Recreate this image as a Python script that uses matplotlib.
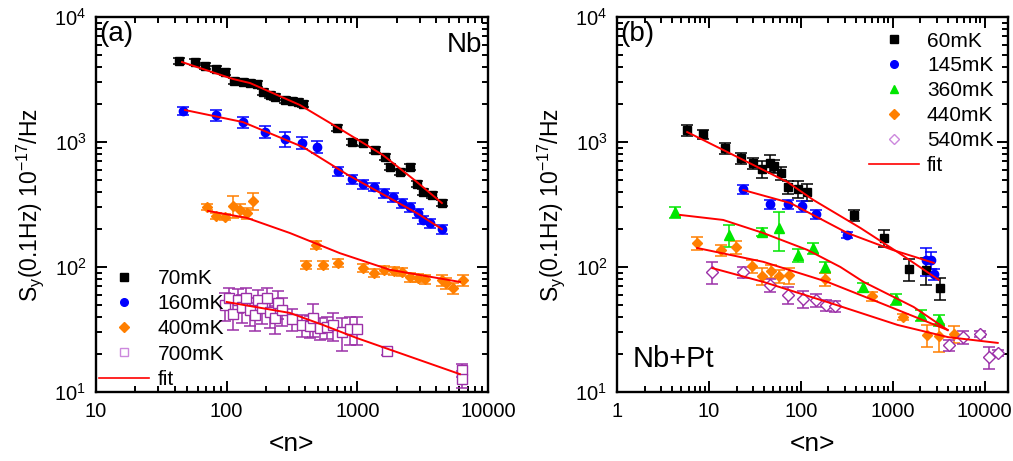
import numpy as np
import matplotlib.pyplot as plt
from matplotlib.lines import Line2D
from matplotlib.ticker import LogLocator, NullFormatter, FixedLocator, FixedFormatter

plt.rcParams['font.family'] = ['Liberation Sans', 'DejaVu Sans']
plt.rcParams['mathtext.fontset'] = 'custom'
plt.rcParams['mathtext.rm'] = 'Liberation Sans'

# ---- panel (a): Nb ----
a70_n = [43, 57, 68, 83, 97, 114, 133, 151, 171, 190, 214, 234, 279, 316, 352, 384,
         698, 910, 1104, 1364, 1626, 1776, 2118, 2525, 2857, 3177, 3724, 4440]
a70_s = [4446, 4365, 4055, 3837, 3631, 3076, 3020, 2965, 2911, 2512, 2377, 2291, 2168, 2128, 2089, 2014,
         1294, 1000, 982, 863, 759, 631, 575, 631, 461, 398, 377, 325]
a70_e = [0.06] * 28

a160_n = [46, 83, 133, 196, 279, 377, 491, 711, 910, 1104, 1340, 1599, 1871, 2194, 2525, 2911, 3177, 3597, 4440]
a160_s = [1770, 1644, 1445, 1202, 1057, 982, 912, 586, 506, 461, 437, 391, 363, 325, 302, 270, 238, 225, 201]
a160_e = [0.07, 0.1, 0.1, 0.11, 0.13, 0.11, 0.11, 0.08, 0.08, 0.08, 0.08, 0.08, 0.08, 0.08, 0.08, 0.08, 0.08, 0.08, 0.08]

a400_n = [71, 83, 97, 112, 126, 143, 159, 482, 404, 545, 711, 1104, 1340, 1599, 1905, 2194, 2525, 2911,
          3291, 4440, 4760, 5390, 6427]
a400_s = [302, 256, 251, 308, 286, 270, 337, 150, 104, 104, 108, 98, 90, 95, 93, 91, 83, 82,
          80, 79, 74, 68, 79]
a400_e = [0.05, 0.06, 0.06, 0.2, 0.12, 0.1, 0.15, 0.07, 0.07, 0.08, 0.08, 0.07, 0.07, 0.07, 0.07, 0.07, 0.08,
          0.08, 0.08, 0.1, 0.1, 0.1, 0.1]

a700_n = [97, 104, 112, 122, 131, 141, 151, 165, 174, 186, 203, 214, 234, 247, 265, 316, 377, 434, 457,
          517, 585, 650, 762, 877, 993, 1683, 6310, 6310]
a700_s = [49.7, 56.5, 42.1, 54.5, 47.9, 56.5, 45.3, 41.3, 54.5, 47.0, 56.5, 43.7, 39.1, 51.5, 45.3, 38.4,
          34.4, 33.7, 39.1, 32.5, 33.1, 34.4, 30.2, 31.9, 31.9, 21.3, 15.0, 12.7]
a700_e = [0.25, 0.2, 0.25, 0.22, 0.25, 0.2, 0.25, 0.25, 0.2, 0.25, 0.2, 0.25, 0.25, 0.25, 0.25, 0.2,
          0.2, 0.2, 0.3, 0.2, 0.2, 0.25, 0.3, 0.25, 0.25, 0.07, 0.12, 0.15]

fa70_n = [45.5, 112, 151, 364, 698, 1570, 2857, 4440]
fa70_s = [4365, 3192, 2965, 1977, 1318, 787, 479, 325]
fa160_n = [48, 133, 384, 848, 2857, 4440]
fa160_s = [1803, 1445, 912, 545, 270, 201]
fa400_n = [72, 143, 305, 736, 1776, 6095]
fa400_s = [281, 247, 187, 129, 95, 76]
fa700_n = [100, 305, 545, 993, 6095]
fa700_s = [52.5, 42.9, 34.4, 27.0, 13.9]

# ---- panel (b): Nb+Pt ----
b60_n = [5.8, 8.7, 15.1, 22.5, 30.4, 38.1, 46.6, 51.5, 61.4, 73.2, 94.1, 118, 375, 796, 1490, 2284, 3245]
b60_s = [1247, 1159, 895, 745, 679, 608, 679, 643, 565, 437, 421, 398, 261, 171, 96, 95, 68]
b60_e = [0.1, 0.08, 0.1, 0.1, 0.1, 0.15, 0.15, 0.12, 0.12, 0.12, 0.15, 0.15, 0.1, 0.15, 0.2, 0.25, 0.2]

b145_n = [23.7, 46.6, 73.2, 104, 148, 322, 2284, 2590, 2795]
b145_s = [421, 319, 319, 308, 265, 180, 114, 114, 88]
b145_e = [0.08, 0.08, 0.08, 0.1, 0.08, 0.06, 0.25, 0.15, 0.1]

b360_n = [4.29, 16.6, 38.1, 58.4, 94.1, 137, 185, 470, 1076, 2014, 3169]
b360_s = [275, 180, 191, 205, 125, 142, 100, 69, 55.5, 41.3, 37.7]
b360_e = [0.1, 0.2, 0.08, 0.35, 0.12, 0.1, 0.1, 0.08, 0.1, 0.1, 0.1]

b440_n = [7.45, 13.6, 19.9, 29.7, 38.1, 47.8, 58.4, 75.1, 185, 589, 1282, 2343, 3169, 4613]
b440_s = [156, 137, 145, 102, 85, 93, 85, 86, 80, 58.6, 39.8, 28.6, 28.1, 29.1]
b440_e = [0.12, 0.1, 0.12, 0.12, 0.15, 0.12, 0.12, 0.15, 0.12, 0.08, 0.06, 0.2, 0.25, 0.15]

b540_n = [10.9, 23.7, 46.6, 73.2, 107, 148, 190, 238, 4074, 5786, 8870, 11100, 13900]
b540_s = [91, 91, 72, 60, 55.5, 54.5, 49.7, 48.8, 23.8, 27.5, 29.1, 19.1, 20.5]
b540_e = [0.2, 0.1, 0.12, 0.15, 0.15, 0.12, 0.1, 0.1, 0.1, 0.12, 0.05, 0.2, 0.06]

fb60_n = [5.8, 20.4, 71.4, 137, 447, 1219, 3169]
fb60_s = [1202, 759, 479, 344, 205, 127, 79]
fb145_n = [23.7, 77, 322, 998, 2795]
fb145_s = [413, 325, 187, 137, 108]
fb360_n = [4.86, 14.3, 39.1, 118, 270, 482, 1690, 3970]
fb360_s = [261, 238, 187, 137, 100, 76, 47.9, 31.3]
fb440_n = [7.45, 39.1, 195, 738, 3970]
fb440_s = [142, 110, 76, 51.5, 31.3]
fb540_n = [10.9, 39.1, 210, 1130, 3970, 13900]
fb540_s = [98, 76, 51.5, 34.4, 27.5, 24.7]

labels_a = ['70mK', '160mK', '400mK', '700mK']
labels_b = ['60mK', '145mK', '360mK', '440mK', '540mK']

BLACK, BLUE, GREEN, ORANGE, PURPLE = 'black', '#0000ff', '#00e600', '#ff7f00', '#9b30a8'
FIT = '#ff0000'


def series(ax, n, s, e, color, marker, label, hollow=False, ms=6):
    s = np.array(s)
    err = np.array(e) * s
    ax.errorbar(n, s, yerr=err, fmt='none', ecolor=color, elinewidth=1.1,
                capsize=4, capthick=1.1, zorder=2)
    if hollow:
        ax.plot(n, s, linestyle='none', marker=marker, ms=ms, mfc='white', mec=color,
                mew=1.0, zorder=3)
    else:
        ax.plot(n, s, linestyle='none', marker=marker, ms=ms, color=color, zorder=3)
    face = 'none' if hollow else color
    return Line2D([], [], linestyle='none', marker=marker, ms=5.5, mfc=face,
                  mec=color if not hollow else '#cc88dd', color=color, label=label)


def style(ax, xlim, xticks, xlabels):
    ax.set_xscale('log')
    ax.set_yscale('log')
    ax.set_xlim(*xlim)
    ax.set_ylim(10, 1e4)
    ax.xaxis.set_major_locator(FixedLocator(xticks))
    ax.xaxis.set_major_formatter(FixedFormatter(xlabels))
    ax.xaxis.set_minor_locator(LogLocator(base=10, subs=np.arange(2, 10)))
    ax.xaxis.set_minor_formatter(NullFormatter())
    ax.yaxis.set_minor_locator(LogLocator(base=10, subs=np.arange(2, 10)))
    ax.yaxis.set_minor_formatter(NullFormatter())
    ax.tick_params(which='both', direction='in', top=True, right=True, width=1.4)
    ax.tick_params(which='major', length=8, labelsize=14.5, pad=7)
    ax.tick_params(which='minor', length=4.5)
    for sp in ax.spines.values():
        sp.set_linewidth(1.7)
    ax.set_xlabel('<n>', fontsize=19, labelpad=8)
    ax.set_ylabel(r'S$_\mathregular{y}$(0.1Hz) 10$^\mathregular{-17}$/Hz', fontsize=16.5, labelpad=6)


fig = plt.figure(figsize=(10.13, 4.61), dpi=100)
ax1 = fig.add_axes([0.0948, 0.1497, 0.3869, 0.8133])
ax2 = fig.add_axes([0.6091, 0.1497, 0.3860, 0.8133])

# panel (a)
h = []
h.append(series(ax1, a70_n, a70_s, a70_e, BLACK, 's', labels_a[0], ms=5.5))
h.append(series(ax1, a160_n, a160_s, a160_e, BLUE, 'o', labels_a[1]))
h.append(series(ax1, a400_n, a400_s, a400_e, ORANGE, 'D', labels_a[2], ms=5.5))
h.append(series(ax1, a700_n, a700_s, a700_e, PURPLE, 's', labels_a[3], hollow=True, ms=6.5))
for fn, fs in [(fa70_n, fa70_s), (fa160_n, fa160_s), (fa400_n, fa400_s), (fa700_n, fa700_s)]:
    ax1.plot(fn, fs, color=FIT, lw=1.4, zorder=4)
h.append(Line2D([], [], color=FIT, lw=1.2, label='fit'))
style(ax1, (10, 10000), [10, 100, 1000, 10000], ['10', '100', '1000', '10000'])
ax1.legend(handles=h, loc='lower left', frameon=False, fontsize=15, handlelength=2.4,
           handletextpad=0.4, labelspacing=0.3, borderaxespad=0.05, borderpad=0.1)
ax1.text(0.008, 0.99, '(a)', transform=ax1.transAxes, fontsize=20, va='top', ha='left')
ax1.text(0.985, 0.96, 'Nb', transform=ax1.transAxes, fontsize=20, va='top', ha='right')

# panel (b)
h = []
h.append(series(ax2, b60_n, b60_s, b60_e, BLACK, 's', labels_b[0], ms=5.5))
h.append(series(ax2, b145_n, b145_s, b145_e, BLUE, 'o', labels_b[1]))
h.append(series(ax2, b360_n, b360_s, b360_e, GREEN, '^', labels_b[2], ms=7))
h.append(series(ax2, b440_n, b440_s, b440_e, ORANGE, 'D', labels_b[3], ms=5.5))
h.append(series(ax2, b540_n, b540_s, b540_e, PURPLE, 'D', labels_b[4], hollow=True, ms=6.5))
for fn, fs in [(fb60_n, fb60_s), (fb145_n, fb145_s), (fb360_n, fb360_s),
               (fb440_n, fb440_s), (fb540_n, fb540_s)]:
    ax2.plot(fn, fs, color=FIT, lw=1.4, zorder=4)
h.append(Line2D([], [], color=FIT, lw=1.2, label='fit'))
style(ax2, (1, 18000), [1, 10, 100, 1000, 10000], ['1', '10', '100', '1000', '10000'])
ax2.legend(handles=h, loc='upper right', frameon=False, fontsize=15, handlelength=2.4,
           handletextpad=0.4, labelspacing=0.28, borderaxespad=0.5, borderpad=0.2)
ax2.text(0.008, 0.99, '(b)', transform=ax2.transAxes, fontsize=20, va='top', ha='left')
ax2.text(0.04, 0.05, 'Nb+Pt', transform=ax2.transAxes, fontsize=21, va='bottom', ha='left')

fig.savefig('out.png', dpi=100)
